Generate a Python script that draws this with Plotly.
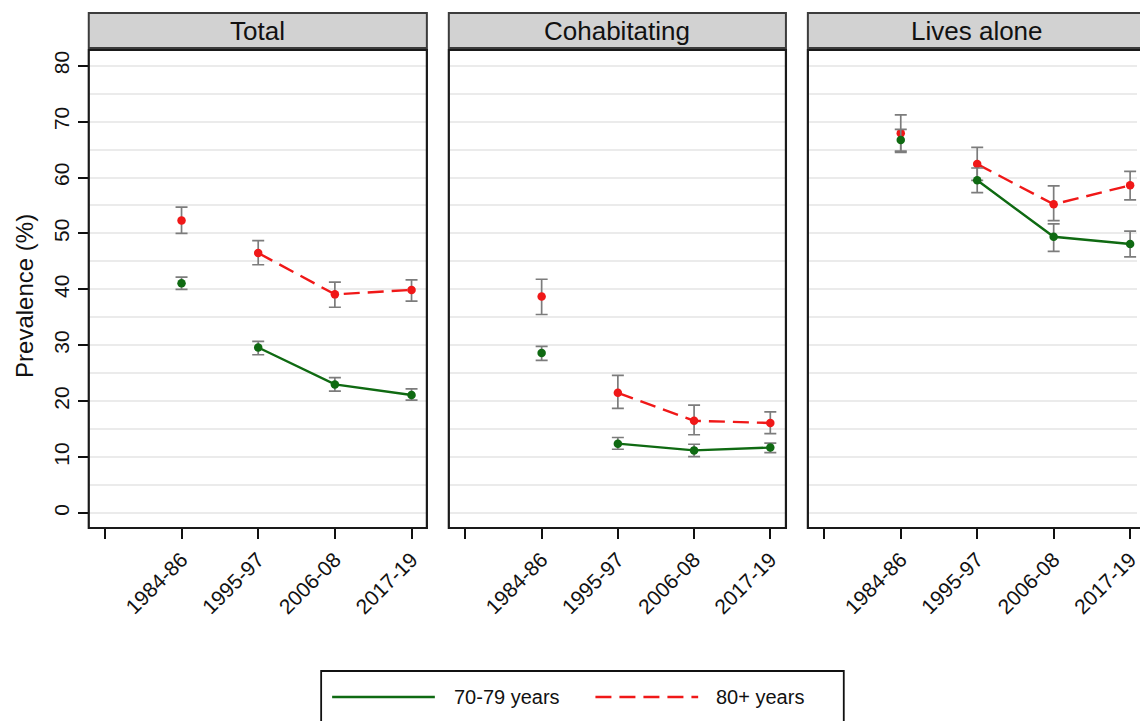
import plotly.graph_objects as go

# Survey periods (x categories); position 0 carries an unlabelled tick
periods = ["1984-86", "1995-97", "2006-08", "2017-19"]
panel_titles = ["Total", "Cohabitating", "Lives alone"]
group_names = ["70-79 years", "80+ years"]

# Prevalence (%) with 95% CI, aged 70-79
total_7079 = [41.1, 29.6, 23.0, 21.1]
total_7079_lo = [40.0, 28.3, 21.8, 20.2]
total_7079_hi = [42.2, 30.7, 24.2, 22.2]
cohab_7079 = [28.6, 12.4, 11.2, 11.7]
cohab_7079_lo = [27.3, 11.4, 10.1, 10.8]
cohab_7079_hi = [29.8, 13.5, 12.3, 12.5]
alone_7079 = [66.7, 59.5, 49.4, 48.1]
alone_7079_lo = [64.5, 57.3, 46.8, 45.8]
alone_7079_hi = [68.6, 61.7, 51.7, 50.4]

# Prevalence (%) with 95% CI, aged 80+
total_80 = [52.3, 46.5, 39.1, 39.9]
total_80_lo = [50.0, 44.4, 36.8, 37.9]
total_80_hi = [54.7, 48.7, 41.3, 41.7]
cohab_80 = [38.7, 21.5, 16.5, 16.1]
cohab_80_lo = [35.5, 18.7, 14.0, 14.2]
cohab_80_hi = [41.8, 24.6, 19.3, 18.1]
alone_80 = [67.9, 62.4, 55.2, 58.6]
alone_80_lo = [64.7, 59.5, 52.3, 56.0]
alone_80_hi = [71.2, 65.4, 58.5, 61.1]

y_ticks = [0, 10, 20, 30, 40, 50, 60, 70, 80]

W, H = 1140, 721
FONT = "Arial, Liberation Sans, sans-serif"
GREEN = "#0f6a12"
RED = "#f01818"
ERR = "#7c7c7c"


def px(x):
    return x / W


def py(y):
    return 1 - y / H


panels = [
    dict(x0=89, x1=428, xr=[-0.21, 4.2],
         g=(total_7079, total_7079_lo, total_7079_hi),
         r=(total_80, total_80_lo, total_80_hi)),
    dict(x0=450, x1=788, xr=[-0.218, 4.205],
         g=(cohab_7079, cohab_7079_lo, cohab_7079_hi),
         r=(cohab_80, cohab_80_lo, cohab_80_hi)),
    dict(x0=810, x1=1149, xr=[-0.215, 4.09],
         g=(alone_7079, alone_7079_lo, alone_7079_hi),
         r=(alone_80, alone_80_lo, alone_80_hi)),
]

PLOT_TOP, PLOT_BOT = 50, 528
STRIP_TOP, STRIP_BOT = 13, 48
y_range = [-2.68, 82.8]

xpos = list(range(1, len(periods) + 1))

fig = go.Figure()
shapes = []
annotations = []

for i, p in enumerate(panels):
    k = "" if i == 0 else str(i + 1)
    xa, ya = "x" + k, "y" + k
    for (vals, lo, hi), color, dash in [(p["r"], RED, "16px,8px"), (p["g"], GREEN, "solid")]:
        # connecting line from the second period onwards
        fig.add_trace(go.Scatter(
            x=xpos[1:], y=vals[1:], mode="lines",
            line=dict(color=color, width=2.4, dash=dash),
            xaxis=xa, yaxis=ya, showlegend=False, hoverinfo="skip"))
        fig.add_trace(go.Scatter(
            x=xpos, y=vals, mode="markers",
            marker=dict(color=color, size=8.5),
            error_y=dict(type="data", symmetric=False,
                         array=[h - v for h, v in zip(hi, vals)],
                         arrayminus=[v - l for v, l in zip(vals, lo)],
                         color=ERR, thickness=1.7, width=6),
            xaxis=xa, yaxis=ya, showlegend=False))

    dom_right = min(p["x1"], W)
    fig.update_layout(**{
        "xaxis" + k: dict(
            domain=[px(p["x0"]), px(dom_right)], range=p["xr"],
            anchor=ya, tickvals=[0] + xpos, ticktext=[""] + periods,
            tickangle=-45, ticks="outside", ticklen=10, tickwidth=2,
            tickcolor="#111", showgrid=False, zeroline=False,
            ticklabeloverflow="allow",
            tickfont=dict(family=FONT, size=21, color="#111")),
        "yaxis" + k: dict(
            domain=[py(PLOT_BOT), py(PLOT_TOP)], range=y_range,
            anchor=xa, tickvals=y_ticks,
            showticklabels=(i == 0), ticks="outside" if i == 0 else "",
            ticklen=10, tickwidth=2, tickcolor="#111", tickangle=-90,
            tickfont=dict(family=FONT, size=21, color="#111"),
            showgrid=True, gridcolor="#ebebeb", gridwidth=1.5, zeroline=False,
            minor=dict(dtick=5, tick0=0, showgrid=True,
                       gridcolor="#ebebeb", gridwidth=1.5, ticks="")),
    })

    # strip header
    shapes.append(dict(type="rect", xref="paper", yref="paper",
                       x0=px(p["x0"]), x1=px(p["x1"]),
                       y0=py(STRIP_BOT), y1=py(STRIP_TOP),
                       fillcolor="#d2d2d2", line=dict(color="#3c3c3c", width=2),
                       layer="above"))
    # plot frame
    shapes.append(dict(type="rect", xref="paper", yref="paper",
                       x0=px(p["x0"]), x1=px(p["x1"]),
                       y0=py(PLOT_BOT), y1=py(PLOT_TOP),
                       line=dict(color="#1a1a1a", width=2.2), layer="above"))
    annotations.append(dict(
        text=panel_titles[i], xref="paper", yref="paper",
        x=px((p["x0"] + p["x1"]) / 2), y=py((STRIP_TOP + STRIP_BOT) / 2 + 1),
        xanchor="center", yanchor="middle", showarrow=False,
        font=dict(family=FONT, size=26, color="#111")))

# y-axis title
annotations.append(dict(
    text="Prevalence (%)", xref="paper", yref="paper",
    x=px(24), y=py(296), textangle=-90, xanchor="center", yanchor="middle",
    showarrow=False, font=dict(family=FONT, size=24, color="#111")))

# legend box
LEG_Y = 697
shapes.append(dict(type="rect", xref="paper", yref="paper",
                   x0=px(322), x1=px(846), y0=py(730), y1=py(671),
                   line=dict(color="#111", width=1.8)))
shapes.append(dict(type="line", xref="paper", yref="paper",
                   x0=px(333), x1=px(436), y0=py(LEG_Y), y1=py(LEG_Y),
                   line=dict(color=GREEN, width=2.4)))
shapes.append(dict(type="line", xref="paper", yref="paper",
                   x0=px(597), x1=px(700), y0=py(LEG_Y), y1=py(LEG_Y),
                   line=dict(color=RED, width=2.4, dash="16px,8px")))
for label, lx in zip(group_names, [453, 716]):
    annotations.append(dict(
        text=label, xref="paper", yref="paper", x=px(lx), y=py(LEG_Y),
        xanchor="left", yanchor="middle", showarrow=False,
        font=dict(family=FONT, size=20, color="#111")))

fig.update_layout(
    width=W, height=H, margin=dict(l=0, r=0, t=0, b=0),
    paper_bgcolor="white", plot_bgcolor="white",
    shapes=shapes, annotations=annotations, showlegend=False)

fig.write_html("out.html")
